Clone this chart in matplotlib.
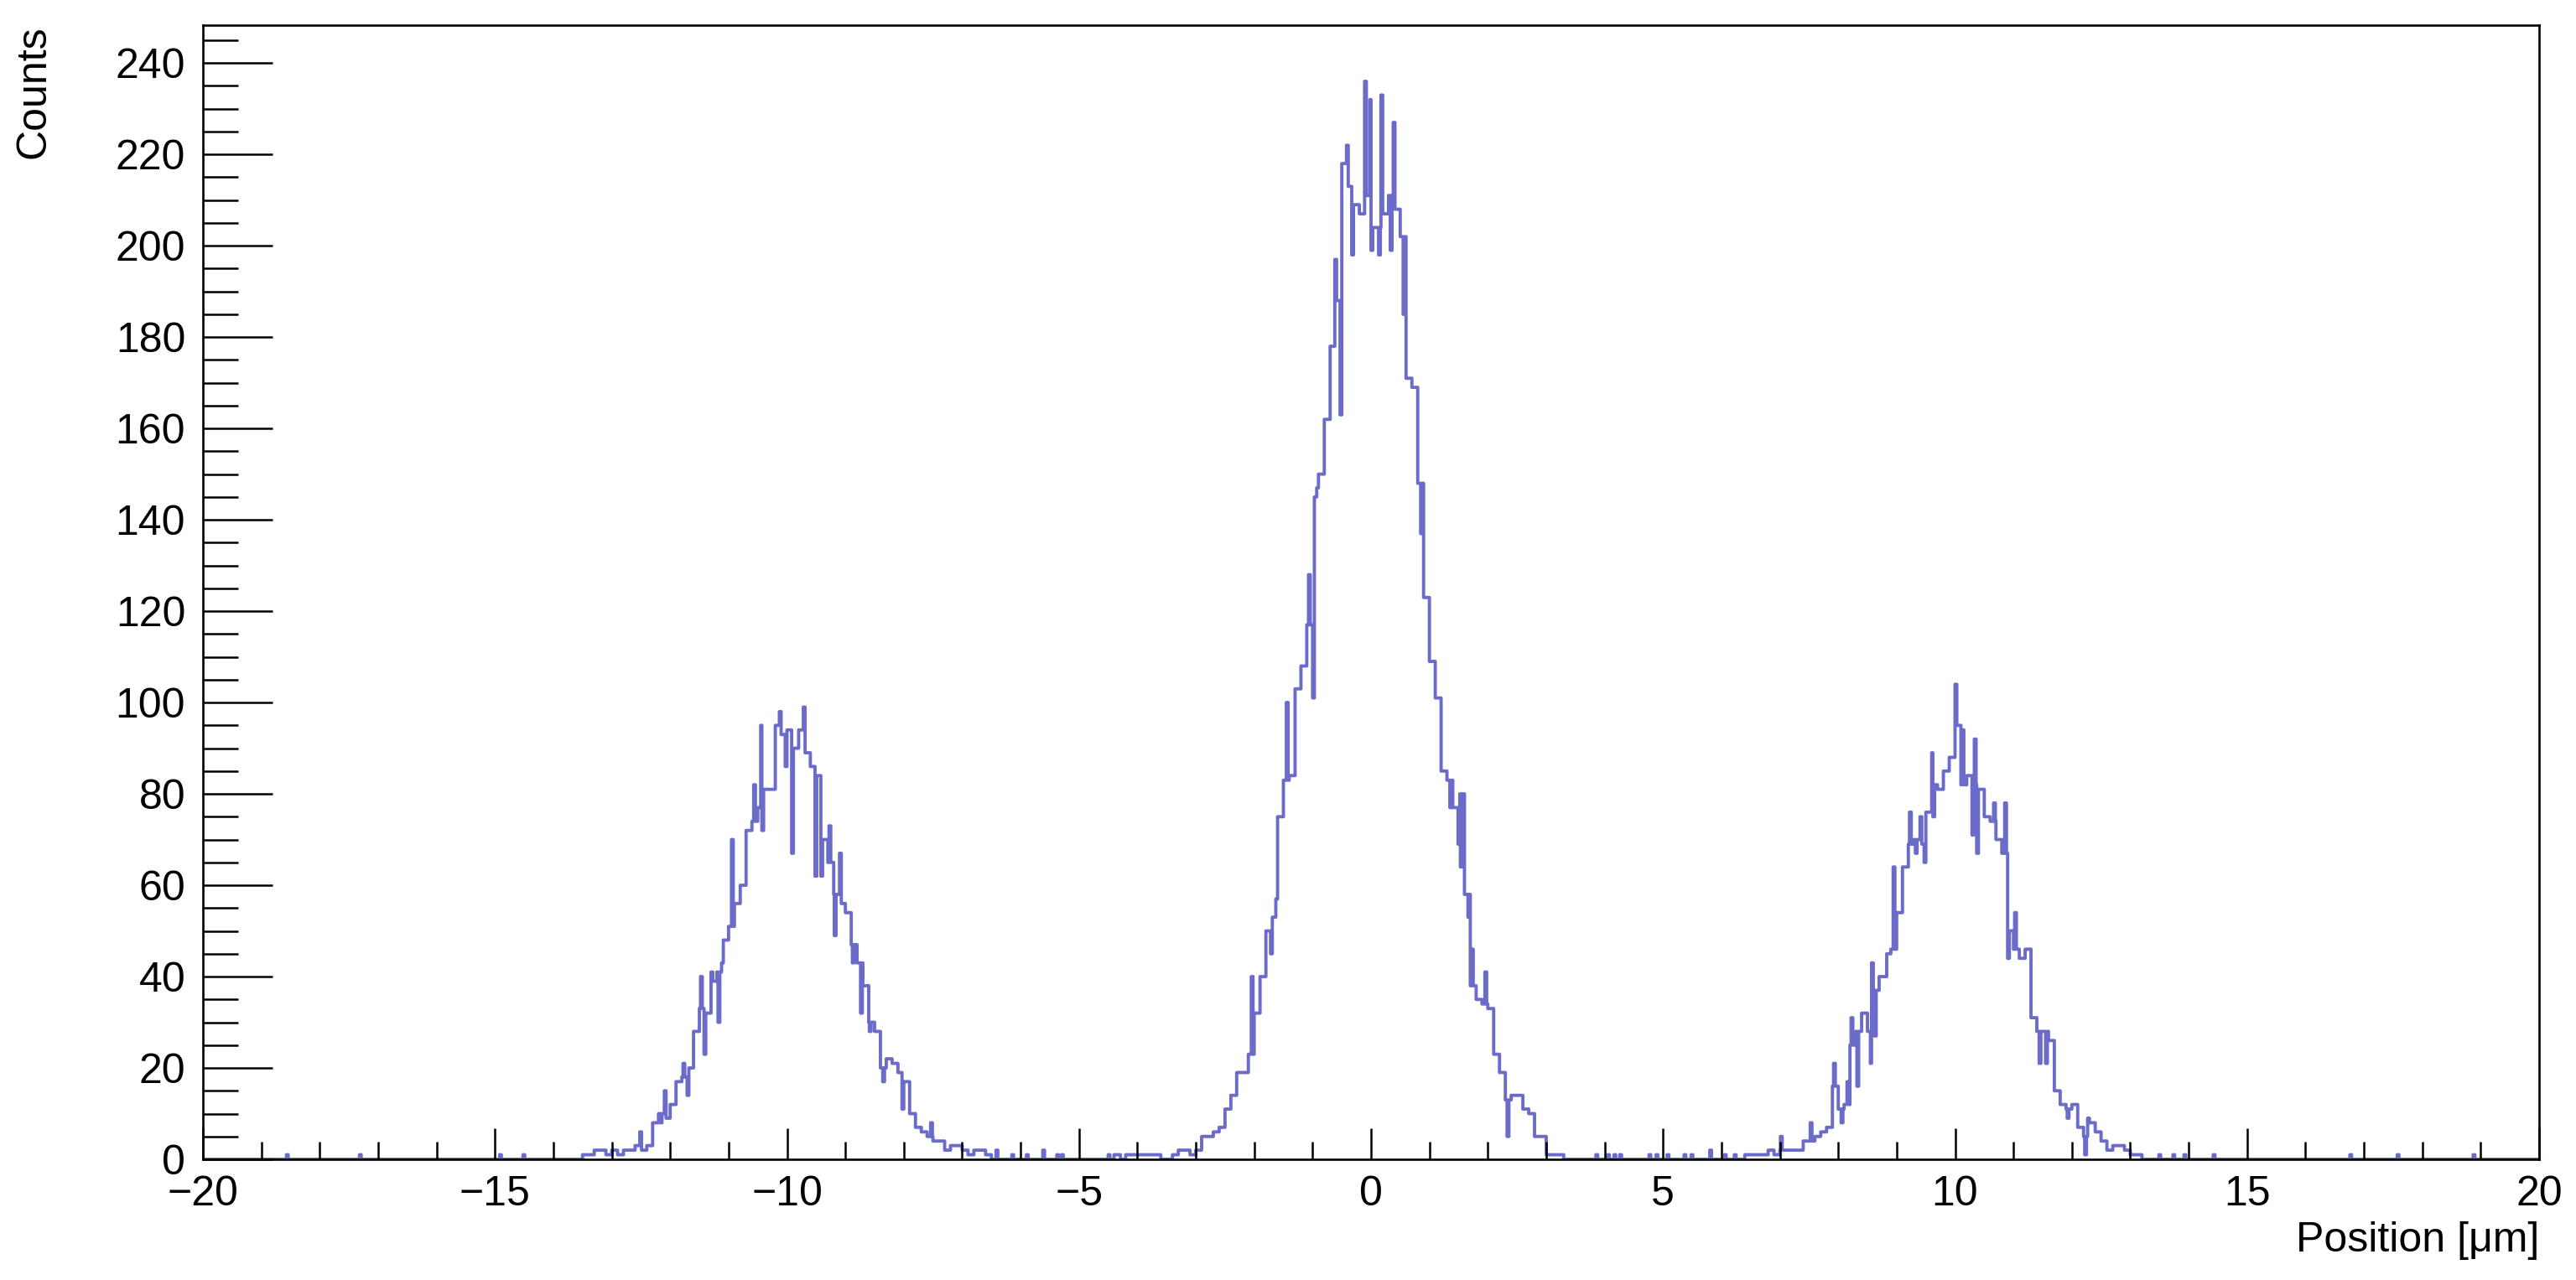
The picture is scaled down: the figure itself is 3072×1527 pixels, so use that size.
import numpy as np
import matplotlib
matplotlib.use("Agg")
import matplotlib.pyplot as plt
from matplotlib.ticker import MultipleLocator

# ---------------- data (counts per 0.1 µm bin) ----------------
bin_width = 0.1

left_start = -13.5
left_counts = [1, 1, 2, 2, 1, 2, 1, 2, 2, 3,
               2, 3, 8, 10, 9, 12, 17, 18, 20, 28,
               33, 32, 39, 41, 48, 51, 56, 60, 72, 74,
               77, 81, 81, 95, 93, 94, 90, 94, 89, 86,
               84, 70, 65, 58, 56, 54, 47, 43, 38, 30,
               28, 20, 22, 21, 19, 17, 10, 7, 6, 5,
               4, 4, 2, 3, 3, 2, 1, 2, 2, 1, 0]

center_start = -4.4
center_counts = [1, 0, 1, 1, 1, 1, 1, 1, 0, 0,
                 1, 2, 2, 1, 2, 5, 5, 6, 7, 11,
                 14, 19, 19, 23, 32, 40, 50, 53, 75, 83,
                 84, 103, 108, 117, 145, 150, 162, 178, 188, 218,
                 213, 209, 207, 211, 204, 204, 207, 211, 208, 202,
                 171, 169, 148, 123, 109, 101, 85, 83, 77, 80,
                 58, 38, 35, 34, 33, 23, 19, 13, 14, 14,
                 11, 10, 5, 5, 1, 1, 1, 0]

right_start = 6.4
right_counts = [1, 1, 1, 1, 2, 1,
                2, 2, 2, 2, 4, 4, 5, 6, 7, 16,
                11, 12, 25, 28, 32, 28, 37, 40, 45, 46,
                54, 64, 69, 70, 69, 76, 82, 81, 85, 88,
                95, 82, 84, 82, 81, 75, 74, 70, 67, 50,
                46, 44, 46, 31, 28, 28, 26, 15, 12, 11,
                12, 7, 5, 8, 6, 4, 2, 3, 3, 2,
                1, 1, 0]

# narrow single bins that stand out from their neighbours (position, count)
spike_x = [-18.57, -17.32, -14.92, -14.52,
           -12.52, -12.17, -12.10, -11.78, -11.71, -11.48, -11.42, -11.30,
           -11.18, -11.12, -10.95, -10.57, -10.45, -10.43, -10.13, -10.03,
           -9.92, -9.72, -9.52, -9.42, -9.28, -9.19, -9.10, -8.88, -8.74,
           -8.59, -8.36, -8.03, -7.54,
           -6.42, -6.15, -5.90, -5.62, -5.38, -5.30, -4.50, -4.32, -4.15,
           -2.05, -1.72, -1.63, -1.45, -1.07, -1.00, -0.93, -0.62, -0.53,
           -0.42, -0.33, -0.11, -0.02, 0.00, 0.13, 0.17, 0.33, 0.38, 0.55,
           0.85, 1.35, 1.49, 1.53, 1.66, 1.72, 1.95, 2.33,
           3.85, 4.05, 4.16, 4.26, 4.76, 4.88, 5.07, 5.36, 5.48, 5.80,
           6.05, 6.22,
           7.01, 7.52, 7.92, 8.05, 8.15, 8.22, 8.32, 8.55, 8.57, 8.62,
           8.80, 8.94, 9.22, 9.32, 9.40, 9.47, 9.60, 9.62, 10.00, 10.12,
           10.29, 10.33, 10.37, 10.66, 10.85, 10.90, 11.02, 11.44, 11.55,
           11.92, 12.22, 12.27,
           13.49, 13.73, 13.92, 14.42, 16.76, 17.57, 18.87]
spike_y = [1, 1, 1, 1,
           6, 8, 15, 21, 14, 40, 23, 41,
           30, 43, 70, 82, 95, 72, 98, 86,
           67, 99, 62, 62, 73, 49, 67, 43, 32,
           28, 17, 11, 8,
           2, 1, 1, 2, 1, 1, 1, 1, 1,
           40, 45, 57, 100, 128, 101, 147, 197, 163,
           222, 198, 236, 232, 199, 198, 233, 199, 227, 185,
           137, 77, 69, 64, 53, 46, 41, 5,
           1, 1, 1, 1, 1, 1, 1, 1, 1, 2,
           1, 1,
           5, 8, 21, 8, 17, 31, 16, 21, 43, 27,
           40, 64, 76, 67, 75, 65, 89, 75, 104, 94,
           71, 92, 67, 78, 78, 44, 54, 21, 21,
           9, 1, 9,
           1, 1, 1, 1, 1, 1, 1]

x_range = (-20, 20)
y_top = 248.3

# ---------------- build fine-binned histogram ----------------
fine = 0.01
n_fine = int(round((x_range[1] - x_range[0]) / fine))
edges = np.linspace(x_range[0], x_range[1], n_fine + 1)
values = np.zeros(n_fine)
sub = int(round(bin_width / fine))
for start, counts in [(left_start, left_counts),
                      (center_start, center_counts),
                      (right_start, right_counts)]:
    i0 = int(round((start - x_range[0]) / fine))
    for k, c in enumerate(counts):
        values[i0 + k * sub: i0 + (k + 1) * sub] = c
spike_w = 3
for sx, sy in zip(spike_x, spike_y):
    i = int(round((sx - x_range[0]) / fine))
    values[i:i + spike_w] = sy

# ---------------- figure ----------------
W, H = 3072, 1527
plt.rcParams['font.family'] = ['Liberation Sans', 'DejaVu Sans']
fig = plt.figure(figsize=(W / 100, H / 100), dpi=100)
ax = fig.add_axes([242 / W, 1 - 1383 / H, (3028 - 242) / W, (1383 - 30) / H])

ax.stairs(values, edges, color='#6b6bc9', linewidth=2.8, baseline=None,
          joinstyle='round', capstyle='round')

ax.set_xlim(*x_range)
ax.set_ylim(0, y_top)
ax.xaxis.set_major_locator(MultipleLocator(5))
ax.xaxis.set_minor_locator(MultipleLocator(1))
ax.yaxis.set_major_locator(MultipleLocator(20))
ax.yaxis.set_minor_locator(MultipleLocator(5))

ax.tick_params(which='both', direction='in', top=False, right=False,
               width=1.8, color='black', labelsize=36)
ax.tick_params(axis='x', which='major', length=27, pad=14)
ax.tick_params(axis='x', which='minor', length=15)
ax.tick_params(axis='y', which='major', length=60, pad=15)
ax.tick_params(axis='y', which='minor', length=30)
for s in ax.spines.values():
    s.set_linewidth(1.9)

fig.text(17 / W, 1 - 30 / H, 'Counts', rotation=90, ha='left', va='top',
         fontsize=36)
fig.text(3028 / W, 1 - 1493 / H, 'Position [μm]', ha='right', va='baseline',
         fontsize=36)

fig.savefig('out.png', dpi=100)
